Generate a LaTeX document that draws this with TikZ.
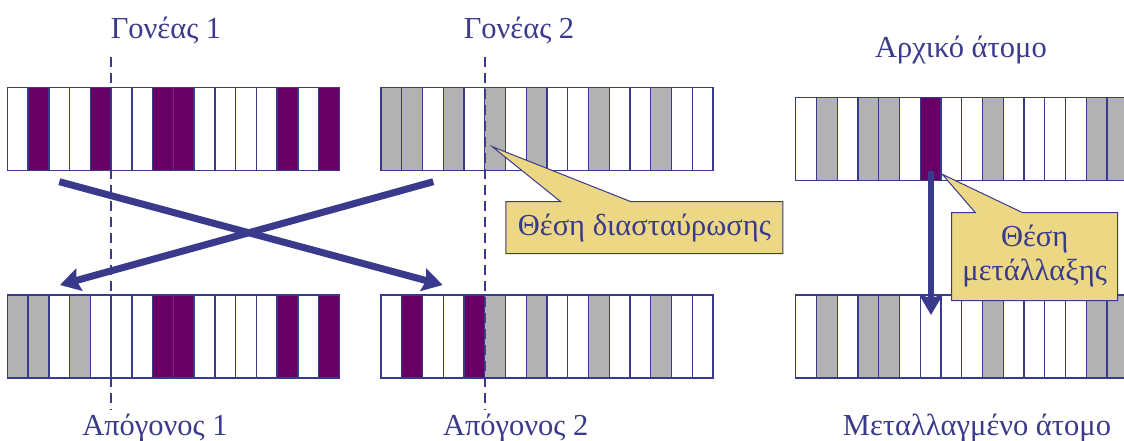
\documentclass[tikz,border=0pt]{standalone}
\usepackage{fontspec}
\setmainfont{Liberation Serif}
\usetikzlibrary{arrows.meta,shapes}
\definecolor{inkblue}{RGB}{58,58,140}
\definecolor{pu}{RGB}{102,0,102}
\definecolor{gr}{RGB}{178,178,178}
\colorlet{wh}{white}
\definecolor{notefill}{RGB}{236,215,133}
\tikzset{>={Stealth[length=20pt,width=23pt,inset=3pt]}}
\tikzset{
  cell/.style={draw=inkblue,line width=1.4pt},
  cutline/.style={draw=inkblue,line width=2.2pt,dash pattern=on 10pt off 6pt},
  chromlabel/.style={text=inkblue,font=\fontsize{30.5}{34}\selectfont,anchor=base},
  crossarrow/.style={draw=inkblue,line width=7pt,->},
  note/.style={rectangle callout,draw=inkblue,line width=1pt,fill=notefill,text=inkblue,
    font=\fontsize{30.5}{34}\selectfont,align=center,inner sep=0pt}
}

\begin{document}
\begin{tikzpicture}[x=1pt,y=-1pt]
\def\cellW {20.75} % width of one gene
\def\cellH {83}    % height of a chromosome
\useasboundingbox (0,0) rectangle (1124,441);
\clip (0,0) rectangle (1124,441);
% chromosomes: left x, top y, genes
\foreach \x/\y/\genes in {
  7.3/87.3/{wh,pu,wh,wh,pu,wh,wh,pu,pu,wh,wh,wh,wh,pu,wh,pu},
  381/87.3/{gr,gr,wh,gr,wh,gr,wh,gr,wh,wh,gr,wh,wh,gr,wh,wh},
  7.3/295/{gr,gr,wh,gr,wh,wh,wh,pu,pu,wh,wh,wh,wh,pu,wh,pu},
  381/295/{wh,pu,wh,wh,pu,gr,wh,gr,wh,wh,gr,wh,wh,gr,wh,wh},
  795.7/97.7/{wh,gr,wh,gr,gr,wh,pu,wh,wh,gr,wh,wh,wh,wh,gr,gr},
  795.7/295/{wh,gr,wh,gr,gr,wh,wh,wh,wh,gr,wh,wh,wh,wh,gr,gr}}
  \foreach \c [count=\i from 0] in \genes
    \draw[cell,fill=\c] (\x+\i*\cellW,\y) rectangle ++(\cellW,\cellH);
% crossover points:
 \coordinate (cut1a) at (111.3,57);
 \coordinate (cut1b) at (111.3,410);
 \coordinate (cut2a) at (484.7,57);
 \coordinate (cut2b) at (484.7,410);
 \draw[cutline] (cut1a) -- (cut1b);
 \draw[cutline] (cut2a) -- (cut2b);
% labels:
 \node[chromlabel] (p1lab) at (166,39) {Γονέας 1};
 \node[chromlabel] (p2lab) at (519,39) {Γονέας 2};
 \node[chromlabel] (olab) at (961,58) {Αρχικό άτομο};
 \node[chromlabel] (c1lab) at (155,435) {Απόγονος 1};
 \node[chromlabel] (c2lab) at (515.7,435) {Απόγονος 2};
 \node[chromlabel] (mlab) at (977,435) {Μεταλλαγμένο άτομο};
% crossover:
 \coordinate (p1out) at (59.3,181.7);
 \coordinate (c2in) at (442.7,285);
 \coordinate (p2out) at (433.3,181.7);
 \coordinate (c1in) at (60,285);
 \draw[crossarrow] (p1out) -- (c2in);
 \draw[crossarrow] (p2out) -- (c1in);
 \coordinate (xtip) at (492.3,146.7);
 \node[note,minimum width=277pt,minimum height=52pt,callout absolute pointer={(xtip)},
   callout pointer width=70pt] (xnote) at (644.4,227.5) {Θέση διασταύρωσης};
% mutation:
 \coordinate (mfrom) at (931,171);
 \coordinate (mto) at (931,315);
 \draw[crossarrow,line width=6.5pt] (mfrom) -- (mto);
 \coordinate (mtip) at (942.3,174.3);
 \node[note,minimum width=166pt,minimum height=88pt,callout absolute pointer={(mtip)},
   callout pointer width=47pt] (mnote) at (1034.7,256.5) {Θέση\\μετάλλαξης};
\end{tikzpicture}
\end{document}
